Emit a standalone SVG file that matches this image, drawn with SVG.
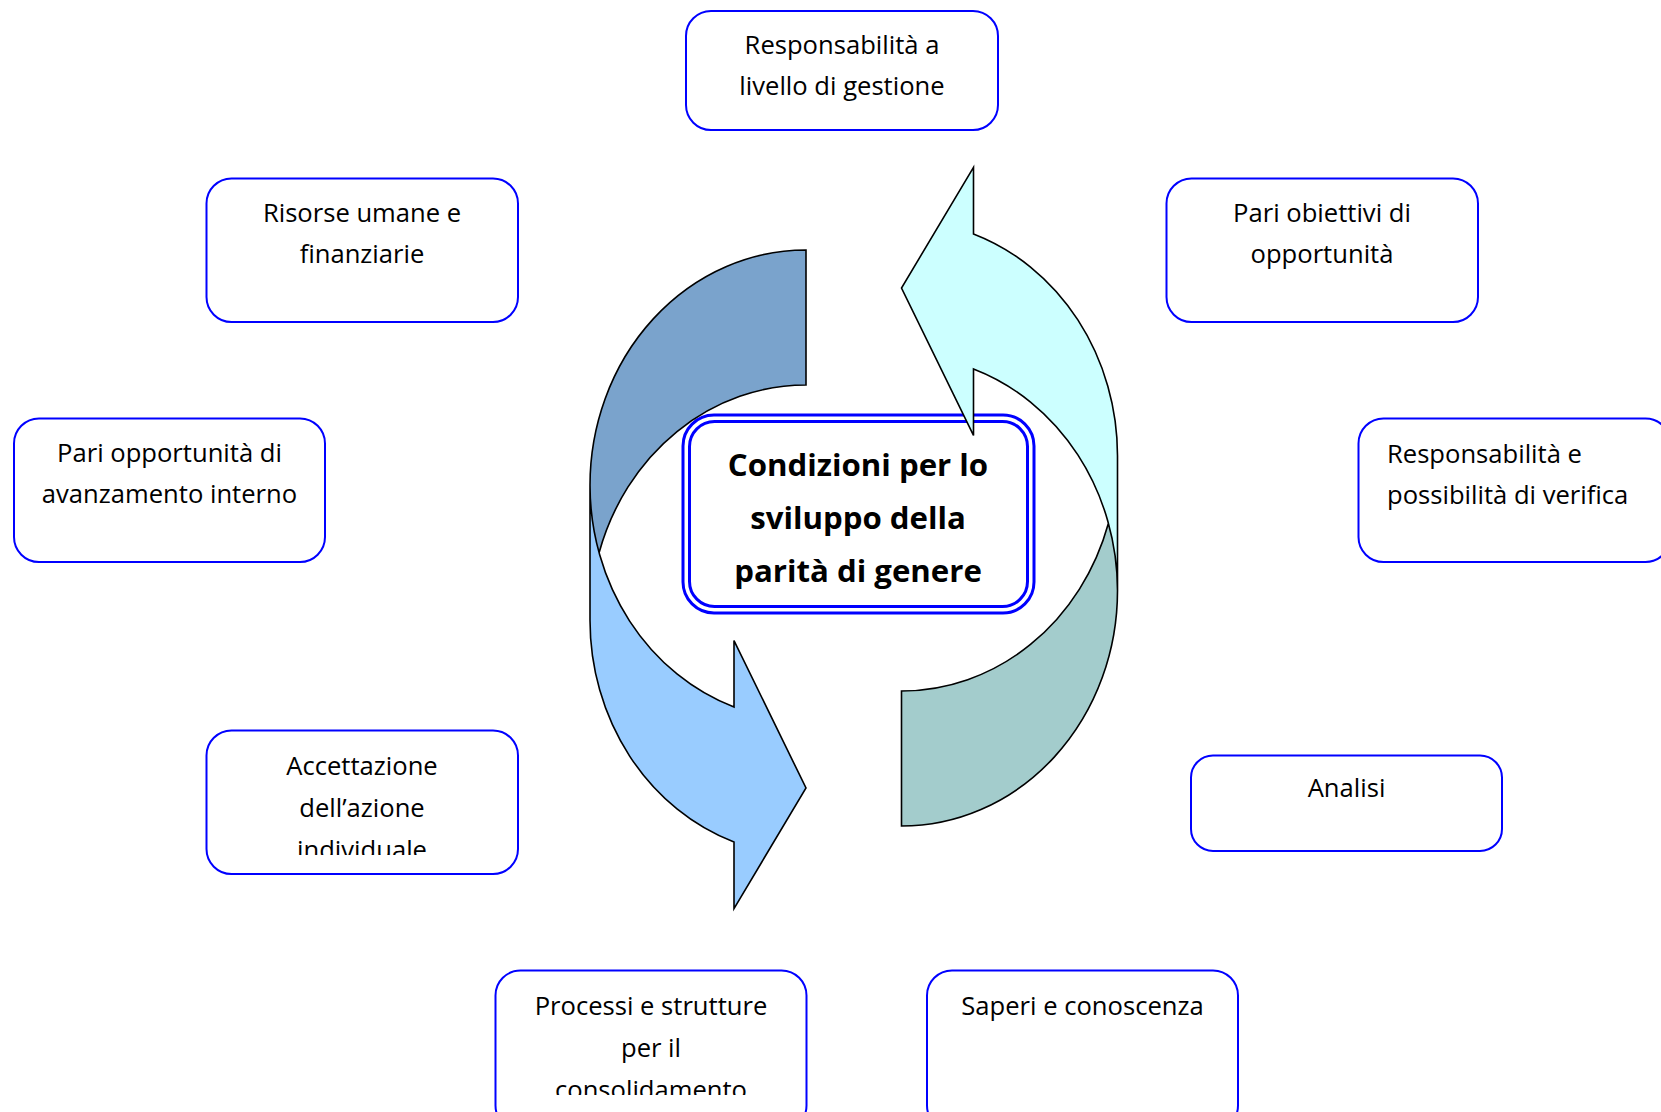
<svg xmlns="http://www.w3.org/2000/svg" width="1661" height="1112" viewBox="0 0 1661 1112">
<style>
.box{fill:#fff;stroke:#0000ff;stroke-width:2}
.t{font-family:"Open Sans","Noto Sans","Liberation Sans",sans-serif;font-size:25.6px;fill:#000;text-anchor:middle}
.tl{text-anchor:start}
.c{font-family:"Open Sans","Noto Sans","Liberation Sans",sans-serif;font-size:31.2px;font-weight:bold;fill:#000;text-anchor:middle}
.dbl{fill:none;stroke:#0000ff;stroke-width:3}
.ol{fill:none;stroke:#000;stroke-width:1.6;stroke-linejoin:miter}
</style>
<defs>
<clipPath id="clipA"><rect x="206" y="730" width="312" height="125"/></clipPath>
<clipPath id="clipP"><rect x="495" y="970" width="311" height="125"/></clipPath>
</defs>
<rect width="1661" height="1112" fill="#fff"/>

<g id="center">
<rect x="683" y="415" width="351" height="198" rx="31" fill="#fff" stroke="#0000ff" stroke-width="3"/>
<rect x="689.5" y="421.5" width="338" height="185" rx="25" class="dbl"/>
<text class="c" x="858" y="476">Condizioni per lo</text>
<text class="c" x="858" y="529">sviluppo della</text>
<text class="c" x="858" y="582">parità di genere</text>
</g>

<g id="connectors">
<g id="arrow-left">
<path fill="#99ccff" d="M590,485.25 A216,235.25 0 0 0 734,707.05 L734,640.55 L806,788 L734,908.55 L734,842.05 A216,235.25 0 0 1 590,620.25 Z"/>
<path fill="#7aa3cc" d="M806,385 A216,235.25 0 0 0 599.08,552.75 A216,235.25 0 0 1 806,250 Z"/>
<path class="ol" d="M590,485.25 A216,235.25 0 0 0 734,707.05 L734,640.55 L806,788 L734,908.55 L734,842.05 A216,235.25 0 0 1 590,620.25 L590,485.25 A216,235.25 0 0 1 806,250 L806,385 A216,235.25 0 0 0 599.08,552.75"/>
</g>
<g id="arrow-right" transform="rotate(180 853.75 538)">
<path fill="#ccffff" d="M590,485.25 A216,235.25 0 0 0 734,707.05 L734,640.55 L806,788 L734,908.55 L734,842.05 A216,235.25 0 0 1 590,620.25 Z"/>
<path fill="#a3cccc" d="M806,385 A216,235.25 0 0 0 599.08,552.75 A216,235.25 0 0 1 806,250 Z"/>
<path class="ol" d="M590,485.25 A216,235.25 0 0 0 734,707.05 L734,640.55 L806,788 L734,908.55 L734,842.05 A216,235.25 0 0 1 590,620.25 L590,485.25 A216,235.25 0 0 1 806,250 L806,385 A216,235.25 0 0 0 599.08,552.75"/>
</g>
</g>

<g id="n-gestione">
<rect class="box" x="686" y="11" width="312" height="119" rx="25"/>
<text class="t" x="842" y="54">Responsabilità a</text>
<text class="t" x="842" y="95">livello di gestione</text>
</g>
<g id="n-risorse">
<rect class="box" x="206.5" y="178.5" width="311.5" height="143.5" rx="25"/>
<text class="t" x="362" y="222">Risorse umane e</text>
<text class="t" x="362" y="263">finanziarie</text>
</g>
<g id="n-obiettivi">
<rect class="box" x="1166.5" y="178.5" width="311.5" height="143.5" rx="25"/>
<text class="t" x="1322" y="222">Pari obiettivi di</text>
<text class="t" x="1322" y="263">opportunità</text>
</g>
<g id="n-avanzamento">
<rect class="box" x="14" y="418.5" width="311" height="143.5" rx="25"/>
<text class="t" x="169.5" y="462">Pari opportunità di</text>
<text class="t" x="169.5" y="503">avanzamento interno</text>
</g>
<g id="n-verifica">
<rect class="box" x="1358.5" y="418.5" width="312" height="143.5" rx="25"/>
<text class="t tl" x="1387" y="463">Responsabilità e</text>
<text class="t tl" x="1387" y="504">possibilità di verifica</text>
</g>
<g id="n-accettazione">
<rect class="box" x="206.5" y="730.5" width="311.5" height="143.5" rx="25"/>
<g clip-path="url(#clipA)">
<text class="t" x="362" y="775">Accettazione</text>
<text class="t" x="362" y="816.5">dell’azione</text>
<text class="t" x="362" y="858.5">individuale</text>
</g>
</g>
<g id="n-analisi">
<rect class="box" x="1191" y="755.5" width="311" height="95.5" rx="22"/>
<text class="t" x="1346.5" y="797">Analisi</text>
</g>
<g id="n-processi">
<rect class="box" x="495.5" y="970.5" width="311" height="160" rx="25"/>
<g clip-path="url(#clipP)">
<text class="t" x="651" y="1015">Processi e strutture</text>
<text class="t" x="651" y="1056.5">per il</text>
<text class="t" x="651" y="1098.5">consolidamento</text>
</g>
</g>
<g id="n-saperi">
<rect class="box" x="927" y="970.5" width="311" height="160" rx="25"/>
<text class="t" x="1082.5" y="1015">Saperi e conoscenza</text>
</g>
</svg>
